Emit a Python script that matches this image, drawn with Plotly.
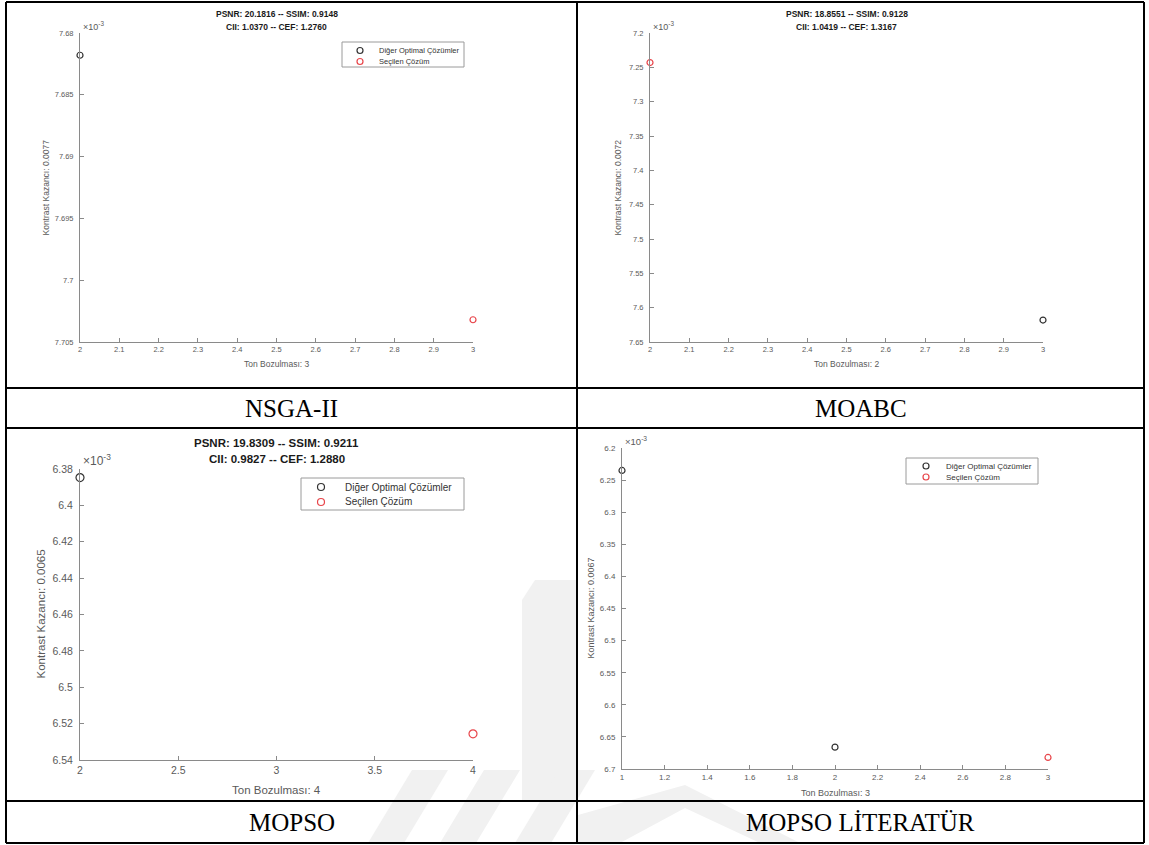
import plotly.graph_objects as go

W, H = 1149, 845

# ---------------- data (y values in units of 1e-3) ----------------
labels = ["NSGA-II", "MOABC", "MOPSO", "MOPSO LİTERATÜR"]
titles = [
    ["PSNR: 20.1816 -- SSIM: 0.9148", "CII: 1.0370 -- CEF: 1.2760"],
    ["PSNR: 18.8551 -- SSIM: 0.9128", "CII: 1.0419 -- CEF: 1.3167"],
    ["PSNR: 19.8309 -- SSIM: 0.9211", "CII: 0.9827 -- CEF: 1.2880"],
    [],
]
xlabels = ["Ton Bozulması: 3", "Ton Bozulması: 2", "Ton Bozulması: 4", "Ton Bozulması: 3"]
ylabels = ["Kontrast Kazancı: 0.0077", "Kontrast Kazancı: 0.0072",
           "Kontrast Kazancı: 0.0065", "Kontrast Kazancı: 0.0067"]

other_x = [[2], [3], [2], [1, 2]]
other_y = [[7.6818], [7.618], [6.3847], [6.235, 6.666]]
sel_x = [[3], [2], [4], [3]]
sel_y = [[7.7032], [7.243], [6.5256], [6.682]]

xticks = [
    [2, 2.1, 2.2, 2.3, 2.4, 2.5, 2.6, 2.7, 2.8, 2.9, 3],
    [2, 2.1, 2.2, 2.3, 2.4, 2.5, 2.6, 2.7, 2.8, 2.9, 3],
    [2, 2.5, 3, 3.5, 4],
    [1, 1.2, 1.4, 1.6, 1.8, 2, 2.2, 2.4, 2.6, 2.8, 3],
]
yticks = [
    [7.68, 7.685, 7.69, 7.695, 7.7, 7.705],
    [7.2, 7.25, 7.3, 7.35, 7.4, 7.45, 7.5, 7.55, 7.6, 7.65],
    [6.38, 6.4, 6.42, 6.44, 6.46, 6.48, 6.5, 6.52, 6.54],
    [6.2, 6.25, 6.3, 6.35, 6.4, 6.45, 6.5, 6.55, 6.6, 6.65, 6.7],
]
legend_names = ["Diğer Optimal Çözümler", "Seçilen Çözüm"]

# ---------------- layout geometry (pixels) ----------------
boxes = [  # left, right, top, bottom of axes
    (80, 473, 33, 342),
    (650, 1043, 33, 342),
    (80, 473, 469, 760),
    (622, 1048, 448, 769),
]
tick_fs = [7.5, 7.5, 10.5, 8]
title_fs = [8.5, 8.5, 11.5, 8.5]
lab_fs = [8.5, 8.5, 11.5, 9]
marker_sz = [6, 6, 8, 6]
exp_fs = [9, 9, 12, 9.5]
legends = {
    0: ((342, 42, 464, 67), 360, 377, (50.5, 61.5), 7.5, 3),
    2: ((301, 478, 464, 510), 321, 343, (487, 502), 10, 3.5),
    3: ((906, 458, 1038, 484), 926, 944, (466, 477), 8, 3),
}
xlab_y = [364, 364, 790, 793]
ylab_x = [45, 617, 40, 590]
title_y = [[14, 27], [14, 27], [443, 459], []]

def fx(px):
    return px / W

def fy(py):
    return 1 - py / H

GRAY = "#8a8a8a"
TXT = "#5a5a5a"
BLACK_M = "#333333"
RED_M = "#e8454a"
FONT = "Liberation Sans"
WM = "#f1f1f1"

fig = go.Figure()
layout = dict(width=W, height=H, margin=dict(l=0, r=0, t=0, b=0, pad=0, autoexpand=False),
              paper_bgcolor="white", plot_bgcolor="rgba(0,0,0,0)", showlegend=False)
annotations = []
shapes = []

# faint background watermark stripes (page decoration)
def poly(pts):
    path = "M " + " L ".join(f"{fx(x)},{fy(y)}" for x, y in pts) + " Z"
    return dict(type="path", xref="paper", yref="paper", path=path,
                fillcolor=WM, line=dict(width=0), layer="below")

shapes.append(poly([(522, 802), (522, 600), (535, 580), (576, 580), (576, 802)]))
for bx in [368, 440, 515]:
    shapes.append(poly([(bx, 843), (bx + 36, 843), (bx + 80, 770), (bx + 44, 770)]))
shapes.append(poly([(578, 843), (578, 815), (685, 785), (800, 843), (760, 843), (685, 808), (620, 843)]))

for i in range(4):
    sfx = "" if i == 0 else str(i + 1)
    xa, ya = "x" + sfx, "y" + sfx
    l, r, t, b = boxes[i]
    fig.add_trace(go.Scatter(
        x=other_x[i], y=other_y[i], mode="markers", name=legend_names[0], cliponaxis=False,
        marker=dict(symbol="circle-open", size=marker_sz[i], color=BLACK_M, line=dict(width=1.2)),
        xaxis=xa, yaxis=ya))
    fig.add_trace(go.Scatter(
        x=sel_x[i], y=sel_y[i], mode="markers", name=legend_names[1], cliponaxis=False,
        marker=dict(symbol="circle-open", size=marker_sz[i], color=RED_M, line=dict(width=1.2)),
        xaxis=xa, yaxis=ya))

    common = dict(showgrid=False, zeroline=False, showline=True, linecolor=GRAY, linewidth=1,
                  ticks="inside", ticklen=4, tickcolor=GRAY, tickwidth=1, automargin=False,
                  tickfont=dict(family=FONT, size=tick_fs[i], color=TXT), mirror=False)
    layout["xaxis" + sfx] = dict(common, domain=[fx(l), fx(r)], anchor=ya,
                                 range=[xticks[i][0], xticks[i][-1]],
                                 tickvals=xticks[i], ticktext=[f"{v:g}" for v in xticks[i]])
    layout["yaxis" + sfx] = dict(common, domain=[fy(b), fy(t)], anchor=xa,
                                 range=[yticks[i][-1], yticks[i][0]],
                                 tickvals=yticks[i], ticktext=[f"{v:g}" for v in yticks[i]],
                                 ticklabelstandoff=4)

    annotations.append(dict(xref="paper", yref="paper", x=fx(l + 1), y=fy(t + 1),
                            xanchor="left", yanchor="bottom", showarrow=False,
                            text="×10<sup>-3</sup>",
                            font=dict(family=FONT, size=exp_fs[i], color=TXT)))
    for k, line in enumerate(titles[i]):
        annotations.append(dict(xref="paper", yref="paper", x=fx((l + r) / 2), y=fy(title_y[i][k]),
                                xanchor="center", yanchor="middle", showarrow=False,
                                text="<b>" + line + "</b>",
                                font=dict(family=FONT, size=title_fs[i], color="#1a1a1a")))
    annotations.append(dict(xref="paper", yref="paper", x=fx((l + r) / 2), y=fy(xlab_y[i]),
                            xanchor="center", yanchor="middle", showarrow=False, text=xlabels[i],
                            font=dict(family=FONT, size=lab_fs[i], color=TXT)))
    annotations.append(dict(xref="paper", yref="paper", x=fx(ylab_x[i]), y=fy((t + b) / 2),
                            xanchor="center", yanchor="middle", showarrow=False, text=ylabels[i],
                            textangle=-90, font=dict(family=FONT, size=lab_fs[i], color=TXT)))
    if i in legends:
        (bx0, by0, bx1, by1), sx, tx, rows, lfs, rad = legends[i]
        shapes.append(dict(type="rect", xref="paper", yref="paper", x0=fx(bx0), x1=fx(bx1),
                           y0=fy(by1), y1=fy(by0), line=dict(color="#9a9a9a", width=1),
                           fillcolor="white", layer="above"))
        for name, col, ry in zip(legend_names, [BLACK_M, RED_M], rows):
            shapes.append(dict(type="circle", xref="paper", yref="paper",
                               x0=fx(sx - rad), x1=fx(sx + rad), y0=fy(ry + rad), y1=fy(ry - rad),
                               line=dict(color=col, width=1.2), layer="above"))
            annotations.append(dict(xref="paper", yref="paper", x=fx(tx), y=fy(ry),
                                    xanchor="left", yanchor="middle", showarrow=False, text=name,
                                    font=dict(family=FONT, size=lfs, color="#333333")))

label_pos = [(291.5, 408), (860.5, 408), (291.5, 822), (860.5, 822)]
for (cx, cy), txt in zip(label_pos, labels):
    annotations.append(dict(xref="paper", yref="paper", x=fx(cx), y=fy(cy),
                            xanchor="center", yanchor="middle", showarrow=False, text=txt,
                            font=dict(family="Liberation Serif", size=25, color="black")))

for yy in [2, 388, 428, 801, 843]:
    shapes.append(dict(type="line", xref="paper", yref="paper", x0=fx(6), x1=fx(1144),
                       y0=fy(yy), y1=fy(yy), line=dict(color="black", width=2)))
for xx in [6, 577, 1144]:
    shapes.append(dict(type="line", xref="paper", yref="paper", x0=fx(xx), x1=fx(xx),
                       y0=fy(2), y1=fy(843), line=dict(color="black", width=2)))

layout["annotations"] = annotations
layout["shapes"] = shapes
fig.update_layout(**layout)
fig.write_html("out.html", post_script=(
    "document.documentElement.style.margin='0';document.documentElement.style.padding='0';"
    "document.body.style.margin='0';document.body.style.padding='0';"
    "document.body.style.overflow='hidden';"))
